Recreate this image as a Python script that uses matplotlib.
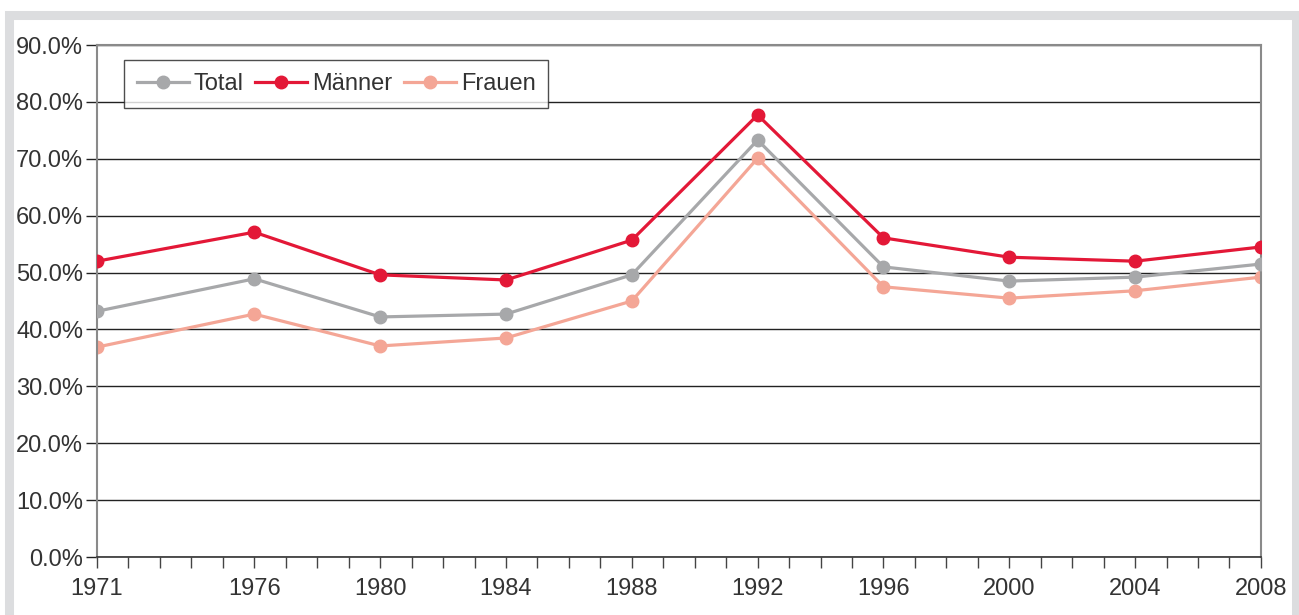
import matplotlib
matplotlib.use("Agg")
import matplotlib.pyplot as plt
from matplotlib.patches import Rectangle
from matplotlib.ticker import FuncFormatter, MultipleLocator

plt.rcParams["font.family"] = ["Liberation Sans", "DejaVu Sans"]

years = [1971, 1976, 1980, 1984, 1988, 1992, 1996, 2000, 2004, 2008]
total = [43.2, 48.9, 42.2, 42.7, 49.6, 73.3, 51.0, 48.5, 49.2, 51.5]
maenner = [52.0, 57.1, 49.6, 48.7, 55.7, 77.7, 56.1, 52.7, 52.0, 54.5]
frauen = [36.9, 42.7, 37.1, 38.5, 45.0, 70.1, 47.5, 45.5, 46.8, 49.2]

fig = plt.figure(figsize=(12.99, 6.15), dpi=100)

# light grey frame round the chart
fig.patches.append(Rectangle((0.0069, -0.05), 0.9908, 1.026, transform=fig.transFigure,
                             fill=False, edgecolor="#dcdddf", linewidth=6.5, zorder=0))

ax = fig.add_axes([0.0747, 0.0943, 0.896, 0.8325])

ax.plot(years, total, color="#a7a8aa", lw=2.3, marker="o", ms=9, label="Total", zorder=3)
ax.plot(years, maenner, color="#e31837", lw=2.3, marker="o", ms=9, label="Männer", zorder=4)
ax.plot(years, frauen, color="#f4a696", lw=2.3, marker="o", ms=9, label="Frauen", zorder=2)

ax.set_xlim(1971, 2008)
ax.set_ylim(0, 90)
ax.yaxis.set_major_locator(MultipleLocator(10))
ax.yaxis.set_major_formatter(FuncFormatter(lambda v, p: f"{v:.1f}%"))
ax.set_xticks(years)
ax.set_xticks(range(1971, 2009), minor=True)
ax.grid(axis="y", color="#222222", lw=1.0, zorder=1)

for s in ("left", "right", "top"):
    ax.spines[s].set_color("#8a8a8a")
    ax.spines[s].set_linewidth(1.5)
ax.spines["bottom"].set_color("#333333")
ax.spines["bottom"].set_linewidth(1.2)

ax.tick_params(axis="y", direction="out", length=8, width=1, color="#222222",
               labelsize=17, labelcolor="#333333", pad=2)
ax.tick_params(axis="x", which="both", direction="out", length=8, width=1,
               color="#444444", labelsize=17, labelcolor="#333333", pad=7)

leg = ax.legend(loc="upper left", bbox_to_anchor=(0.0232, 0.9707), borderaxespad=0,
                ncol=3, fontsize=17, frameon=True, fancybox=False, handlelength=2.2,
                columnspacing=0.5, handletextpad=0.2, borderpad=0.55)
leg.get_frame().set_edgecolor("#222222")
leg.get_frame().set_linewidth(1.0)
for t in leg.get_texts():
    t.set_color("#333333")

fig.savefig("out.png", dpi=100)
